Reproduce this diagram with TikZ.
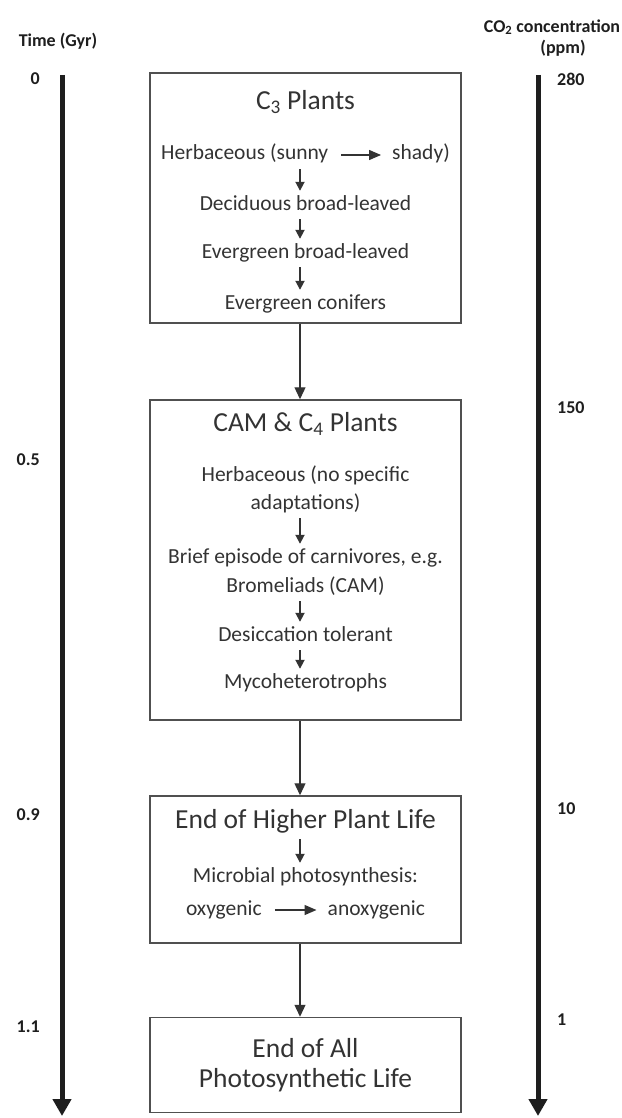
\documentclass[tikz,border=0pt]{standalone}
\usepackage{fontspec}
\setmainfont{Carlito}
\usetikzlibrary{arrows.meta}
\definecolor{txtc}{HTML}{333333}
\definecolor{boxc}{HTML}{505050}
\definecolor{axc}{HTML}{1E1E1E}
\begin{document}
\begin{tikzpicture}[x=1pt,y=-1pt,
  boxst/.style={draw=boxc, line width=1.5pt, minimum width=311pt, inner sep=0pt, text=txtc},
  ln/.style={font=\fontsize{21.5}{25}\selectfont, text=txtc, inner xsep=0pt, inner ysep=4pt, text height=15pt, text depth=5pt},
  ttl/.style={ln, font=\fontsize{27.5}{32}\selectfont, text height=19.5pt, text depth=6.5pt},
  lab/.style={font=\fontsize{18}{21}\selectfont\bfseries, text=axc, inner sep=0pt},
  axis/.style={draw=axc, line width=5pt, -{Triangle[width=18pt,length=17pt]}},
  conn/.style={draw=txtc, line width=1.3pt, -{Triangle[width=11pt,length=12pt]}},
  sm/.style={draw=txtc, line width=1.8pt, -{Triangle[width=9pt,length=9pt]}},
  harr/.style={draw=txtc, line width=1.3pt, -{Triangle[width=10pt,length=12pt]}, shorten <=13pt, shorten >=11pt},
]
\useasboundingbox (0,0) rectangle (621,1118);
\def\cx{305.5}
\def\ax{-5.5pt}

% axes
\coordinate (lt) at (62,75);
\coordinate (lb) at (62,1116);
\coordinate (rt) at (538,75);
\coordinate (rb) at (538,1116);
\draw[axis] (lt) -- (lb);
\draw[axis] (rt) -- (rb);

% axis titles
\node[lab] (time) at (58,41) {Time (Gyr)};
\node[lab] (co2) at (552,27) {CO\textsubscript{2} concentration};
\node[lab] (ppm) at (563,48) {(ppm)};

% left labels
\node[lab, anchor=east] (g0) at (40,79) {0};
\node[lab, anchor=east] (g05) at (40,460) {0.5};
\node[lab, anchor=east] (g09) at (40,815) {0.9};
\node[lab, anchor=east] (g11) at (40,1027) {1.1};

% right labels
\node[lab, anchor=west] (c280) at (557,79) {280};
\node[lab, anchor=west] (c150) at (557,408) {150};
\node[lab, anchor=west] (c10) at (557,809) {10};
\node[lab, anchor=west] (c1) at (557,1020) {1};

% boxes
\node[boxst, minimum height=250pt] (b1) at (\cx,198) {};
\node[boxst, minimum height=320pt] (b2) at (\cx,560) {};
\node[boxst, minimum height=147pt] (b3) at (\cx,869.5) {};
\node[boxst, minimum height=95pt, align=center, font=\fontsize{27.5}{30}\selectfont] (b4) at (\cx,1065) {End of All\\Photosynthetic Life};

\draw[conn] ([xshift=\ax]b1.south) -- ([xshift=\ax]b2.north);
\draw[conn] ([xshift=\ax]b2.south) -- ([xshift=\ax]b3.north);
\draw[conn] ([xshift=\ax]b3.south) -- ([xshift=\ax]b4.north);

% box 1
\node[ttl] (c3) at (\cx,103) {C\textsubscript{3} Plants};
\node[ln] (l1) at (\cx,155) {\phantom{Herbaceous (sunny}\hspace{64pt}\phantom{shady)}};
\node[ln, anchor=west] (sunny) at (l1.west) {Herbaceous (sunny};
\node[ln, anchor=east] (shady) at (l1.east) {shady)};
\draw[harr] (sunny) -- (shady);
\node[ln] (decid) at (\cx,205) {Deciduous broad-leaved};
\node[ln] (evbl) at (\cx,253) {Evergreen broad-leaved};
\node[ln] (conif) at (\cx,304) {Evergreen conifers};
\draw[sm] ([xshift=\ax]l1.south) -- ([xshift=\ax]decid.north);
\draw[sm] ([xshift=\ax]decid.south) -- ([xshift=\ax]evbl.north);
\draw[sm] ([xshift=\ax]evbl.south) -- ([xshift=\ax]conif.north);

% box 2
\node[ttl] (cam) at (\cx,425) {CAM \& C\textsubscript{4} Plants};
\node[ln] (herb2) at (\cx,476) {Herbaceous (no specific};
\node[ln] (adapt) at (\cx,504) {adaptations)};
\node[ln] (brief) at (\cx,558) {Brief episode of carnivores, e.g.};
\node[ln] (brom) at (\cx,587) {Bromeliads (CAM)};
\node[ln] (desic) at (\cx,636) {Desiccation tolerant};
\node[ln] (myco) at (\cx,683) {Mycoheterotrophs};
\draw[sm] ([xshift=\ax]adapt.south) -- ([xshift=\ax]brief.north);
\draw[sm] ([xshift=\ax]brom.south) -- ([xshift=\ax]desic.north);
\draw[sm] ([xshift=\ax]desic.south) -- ([xshift=\ax]myco.north);

% box 3
\node[ttl] (endh) at (\cx,822) {End of Higher Plant Life};
\node[ln] (micro) at (\cx,877) {Microbial photosynthesis:};
\node[ln] (l2) at (\cx,910) {\phantom{oxygenic}\hspace{66pt}\phantom{anoxygenic}};
\node[ln, anchor=west] (oxy) at (l2.west) {oxygenic};
\node[ln, anchor=east] (anoxy) at (l2.east) {anoxygenic};
\draw[harr] (oxy) -- (anoxy);
\draw[sm] ([xshift=\ax]endh.south) -- ([xshift=\ax]micro.north);
\end{tikzpicture}
\end{document}
